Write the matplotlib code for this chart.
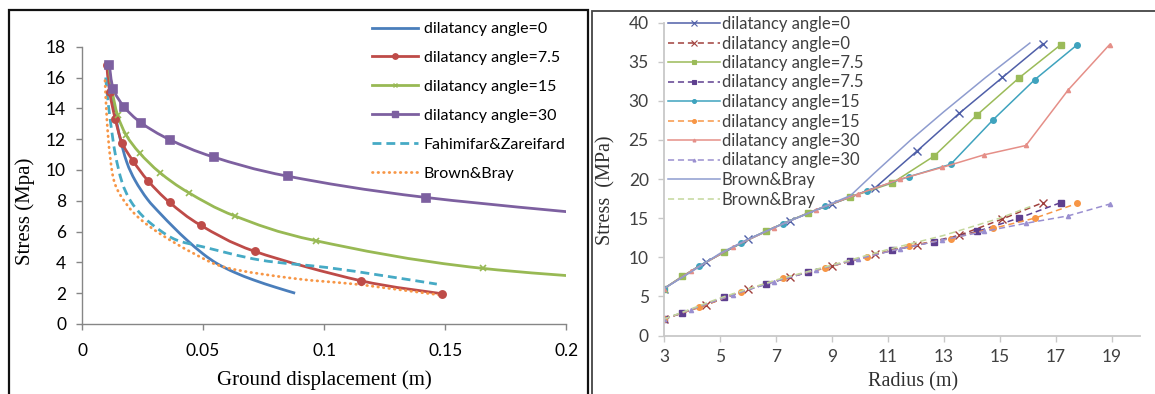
import matplotlib
matplotlib.use("Agg")
import matplotlib.pyplot as plt
import numpy as np
from matplotlib.path import Path
from matplotlib.patches import PathPatch, Rectangle
from matplotlib.lines import Line2D

W, H = 1155, 394
SANS = ["Lato", "DejaVu Sans"]
SERIF = ["Liberation Serif", "DejaVu Serif"]

# ---------- left chart: stress vs ground displacement ----------
disp_0 = [0.0110, 0.0118, 0.0133, 0.0155, 0.0185, 0.0220, 0.0270, 0.0323,
          0.0380, 0.0433, 0.0500, 0.0560, 0.0630, 0.0710, 0.0800, 0.0880]
stress_0 = [16.9, 15.5, 14.0, 12.2, 10.5, 9.3, 8.1, 7.17,
            6.25, 5.45, 4.55, 3.9, 3.35, 2.85, 2.38, 2.0]

disp_75 = [0.0102, 0.0114, 0.0137, 0.0165, 0.0211, 0.0273, 0.0362, 0.0491,
           0.0714, 0.1151, 0.1488]
stress_75 = [16.83, 15.06, 13.33, 11.78, 10.58, 9.29, 7.89, 6.40,
             4.71, 2.81, 1.96]

disp_15 = [0.0110, 0.0125, 0.0147, 0.0183, 0.0238, 0.0323, 0.0440, 0.0633,
           0.0967, 0.1655, 0.2800]
stress_15 = [16.83, 15.1, 13.55, 12.25, 11.10, 9.81, 8.53, 7.0,
             5.40, 3.61, 2.3]

disp_30 = [0.0113, 0.0129, 0.0175, 0.0245, 0.0362, 0.0543, 0.0851, 0.1422, 0.2400]
stress_30 = [16.83, 15.27, 14.08, 13.05, 11.97, 10.84, 9.59, 8.21, 6.7]

disp_fz = [0.0098, 0.0105, 0.0117, 0.0137, 0.0165, 0.0200, 0.0254, 0.0320,
           0.0392, 0.0502, 0.0736, 0.1010, 0.1230, 0.1465]
stress_fz = [16.0, 14.8, 13.2, 11.06, 9.22, 8.0, 6.95, 6.1,
             5.44, 5.0, 4.15, 3.67, 3.17, 2.59]

disp_bb = [0.0095, 0.0103, 0.0115, 0.0132, 0.0165, 0.0227, 0.0323, 0.0461,
           0.0598, 0.0873, 0.1107, 0.1224, 0.1480]
stress_bb = [15.8, 13.2, 11.0, 9.3, 8.2, 7.0, 5.85, 4.58,
             3.65, 2.96, 2.62, 2.40, 1.88]

left_labels = ["dilatancy angle=0", "dilatancy angle=7.5", "dilatancy angle=15",
               "dilatancy angle=30", "Fahimifar&Zareifard", "Brown&Bray"]

# ---------- right chart: stress vs radius ----------
r_0 = [3.0, 4.5, 6.0, 7.5, 9.0, 10.55, 12.05, 13.55, 15.1, 16.55]
sig_0_solid = [6.0, 9.4, 12.3, 14.7, 16.8, 18.9, 23.6, 28.4, 33.0, 37.3]
sig_0_dash = [2.1, 3.9, 5.9, 7.5, 8.9, 10.4, 11.6, 12.8, 14.9, 17.0]

r_75 = [3.0, 3.66, 5.16, 6.66, 8.16, 9.66, 11.16, 12.66, 14.19, 15.68, 17.19]
sig_75_solid = [6.0, 7.6, 10.7, 13.4, 15.7, 17.7, 19.5, 22.95, 28.2, 32.9, 37.2]
sig_75_dash = [2.1, 2.9, 4.9, 6.6, 8.1, 9.5, 10.9, 12.0, 13.3, 15.0, 17.0]

r_15 = [3.0, 4.25, 5.75, 7.25, 8.75, 10.25, 11.75, 13.25, 14.77, 16.25, 17.78]
sig_15_solid = [6.0, 8.9, 11.8, 14.3, 16.5, 18.5, 20.3, 21.9, 27.6, 32.7, 37.2]
sig_15_dash = [2.1, 3.6, 5.6, 7.3, 8.6, 10.1, 11.4, 12.4, 13.7, 15.0, 16.9]

r_30 = [3.0, 3.95, 5.45, 6.95, 8.45, 9.95, 11.45, 12.95, 14.44, 15.94, 17.45, 18.93]
sig_30_solid = [6.0, 8.2, 11.3, 13.8, 16.1, 18.1, 20.0, 21.5, 23.1, 24.3, 31.4, 37.2]
sig_30_dash = [2.1, 3.3, 5.2, 6.9, 8.4, 9.8, 11.1, 12.2, 13.3, 14.35, 15.3, 16.8]

r_bb = [3.0, 4.0, 5.0, 6.0, 7.0, 8.0, 9.0, 9.67, 10.5, 11.82, 13.0, 14.5, 16.08]
sig_bb_solid = [6.0, 8.2, 10.5, 12.3, 13.9, 15.4, 16.9, 17.9, 20.7, 25.0, 28.6, 33.0, 37.4]
r_bb_dash = [3.0, 5.0, 7.0, 9.0, 11.0, 13.0, 15.0, 16.1]
sig_bb_dash = [2.1, 4.8, 7.1, 9.0, 11.0, 12.8, 15.0, 16.5]


def smooth_path(xs, ys):
    """Excel-like smoothed line through the points (Catmull-Rom as Bezier)."""
    pts = np.column_stack([xs, ys]).astype(float)
    n = len(pts)
    verts = [pts[0]]
    codes = [Path.MOVETO]
    for i in range(n - 1):
        p0 = pts[i - 1] if i > 0 else pts[i]
        p1 = pts[i]
        p2 = pts[i + 1]
        p3 = pts[i + 2] if i + 2 < n else p2
        verts += [p1 + (p2 - p0) / 6, p2 - (p3 - p1) / 6, p2]
        codes += [Path.CURVE4] * 3
    return Path(verts, codes)


def px_box(x0, y0, x1, y1):
    # pixel box (from top-left) -> figure fraction [left, bottom, width, height]
    return [x0 / W, 1 - y1 / H, (x1 - x0) / W, (y1 - y0) / H]


fig = plt.figure(figsize=(W / 100, H / 100), dpi=100)

# ======== left ========
ax = fig.add_axes(px_box(82, 46.7, 566.4, 324))
DOTS = (0, (0.2, 1.8))
left_series = [
    (disp_0, stress_0, "#4A7EBB", "-", None, 0),
    (disp_75, stress_75, "#BE4B48", "-", "o", 5.2),
    (disp_15, stress_15, "#98B954", "-", "x", 4.5),
    (disp_30, stress_30, "#7D60A0", "-", "s", 5.5),
    (disp_fz, stress_fz, "#46AAC5", (0, (3.2, 1.8)), None, 0),
    (disp_bb, stress_bb, "#F79646", DOTS, None, 0),
]
handles = []
for xs, ys, col, ls, mk, ms in left_series:
    patch = PathPatch(smooth_path(xs, ys), fill=False, edgecolor=col, lw=2.0,
                      linestyle=ls, capstyle="round" if ls is DOTS else "butt")
    ax.add_patch(patch)
    if mk:
        ax.plot(xs, ys, ls="none", marker=mk, ms=ms, color=col, mec=col, mew=1.2)
    handles.append(Line2D([], [], color=col, lw=2.0, linestyle=ls, marker=mk,
                          ms=ms * 0.75 if mk else 0, mew=1.0,
                          dash_capstyle="round" if ls is DOTS else "butt"))

ax.set_xlim(0, 0.2)
ax.set_ylim(0, 18)
ax.set_xticks([0, 0.05, 0.1, 0.15, 0.2])
ax.set_xticklabels(["0", "0.05", "0.1", "0.15", "0.2"])
ax.set_yticks(range(0, 19, 2))
for s in ["top", "right"]:
    ax.spines[s].set_visible(False)
for s in ["left", "bottom"]:
    ax.spines[s].set_color("#868686")
    ax.spines[s].set_linewidth(1.0)
ax.tick_params(direction="out", length=4.5, width=1.0, color="#868686",
               labelsize=12.5, pad=7)
ax.tick_params(axis="x", pad=9)
for lab in ax.get_xticklabels() + ax.get_yticklabels():
    lab.set_family(SANS)
ax.text(0.5, -0.202, "Ground displacement (m)", transform=ax.transAxes,
        ha="center", va="center", family=SERIF, fontsize=15)
ax.text(-0.1165, 0.4075, "Stress (Mpa)", transform=ax.transAxes, rotation=90,
        ha="center", va="center", family=SERIF, fontsize=15)

leg = fig.legend(handles, left_labels, loc="upper left",
                 bbox_to_anchor=(372 / W, 1 - 22 / H), frameon=False,
                 borderpad=0, borderaxespad=0, handlelength=2.9,
                 handletextpad=0.35, labelspacing=0.92,
                 prop={"family": SANS, "size": 11.5})

# ======== right ========
ax2 = fig.add_axes(px_box(664, 22.7, 1139.5, 335.5))
DASH = (0, (4, 2.5))
right_series = [
    (r_0, sig_0_solid, "#4F5FA8", "-", "x", 6),
    (r_0, sig_0_dash, "#A0403C", DASH, "x", 6),
    (r_75, sig_75_solid, "#9BBB59", "-", "s", 4),
    (r_75, sig_75_dash, "#5E3F8F", DASH, "s", 4),
    (r_15, sig_15_solid, "#3FA3BE", "-", "o", 4),
    (r_15, sig_15_dash, "#F79646", DASH, "o", 4),
    (r_30, sig_30_solid, "#E58F88", "-", "^", 3),
    (r_30, sig_30_dash, "#9A8FD0", DASH, "^", 3),
    (r_bb, sig_bb_solid, "#8E9CCF", "-", None, 0),
    (r_bb_dash, sig_bb_dash, "#C4D79B", DASH, None, 0),
]
right_labels = ["dilatancy angle=0", "dilatancy angle=0", "dilatancy angle=7.5",
                "dilatancy angle=7.5", "dilatancy angle=15", "dilatancy angle=15",
                "dilatancy angle=30", "dilatancy angle=30", "Brown&Bray", "Brown&Bray"]
handles2 = []
for xs, ys, col, ls, mk, ms in right_series:
    ax2.plot(xs, ys, color=col, lw=1.1, linestyle=ls, marker=mk, ms=ms,
             mec=col, mew=1.0)
    handles2.append(Line2D([], [], color=col, lw=1.1, linestyle=ls, marker=mk,
                           ms=ms * 0.7 if mk else 0, mew=0.8))

ax2.set_xlim(3, 20)
ax2.set_ylim(0, 40)
ax2.set_xticks(range(3, 20, 2))
ax2.set_yticks(range(0, 41, 5))
for s in ["top", "right"]:
    ax2.spines[s].set_visible(False)
for s in ["left", "bottom"]:
    ax2.spines[s].set_color("#C8C8C8")
    ax2.spines[s].set_linewidth(1.3)
ax2.tick_params(direction="out", length=4, width=1.0, color="#C8C8C8",
                labelsize=12.5, labelcolor="#404040")
ax2.tick_params(axis="y", pad=7)
ax2.tick_params(axis="x", pad=6)
for lab in ax2.get_xticklabels() + ax2.get_yticklabels():
    lab.set_family(SANS)
ax2.text(0.523, -0.149, "Radius (m)", transform=ax2.transAxes,
         ha="center", va="center", family=SERIF, fontsize=14.5, color="#303030")
ax2.text(-0.122, 0.465, "Stress  (MPa)", transform=ax2.transAxes, rotation=90,
         ha="center", va="center", family=SERIF, fontsize=14.5, color="#303030")

leg2 = fig.legend(handles2, right_labels, loc="upper left",
                  bbox_to_anchor=(668 / W, 1 - 16 / H), frameon=False,
                  borderpad=0, borderaxespad=0, handlelength=3.1,
                  handletextpad=0.12, labelspacing=0.21,
                  prop={"family": SANS, "size": 12})
for t in leg2.get_texts():
    t.set_color("#404040")

# panel frames
fig.add_artist(Rectangle((9 / W, -0.05), (588 - 9) / W, 1.05 - 10 / H,
                         transform=fig.transFigure, fill=False,
                         edgecolor="#111111", lw=1.6))
fig.add_artist(Rectangle((592 / W, -0.05), 0.5, 1.05 - 11 / H,
                         transform=fig.transFigure, fill=False,
                         edgecolor="#444444", lw=1.3))

fig.savefig("out.png", dpi=100)
